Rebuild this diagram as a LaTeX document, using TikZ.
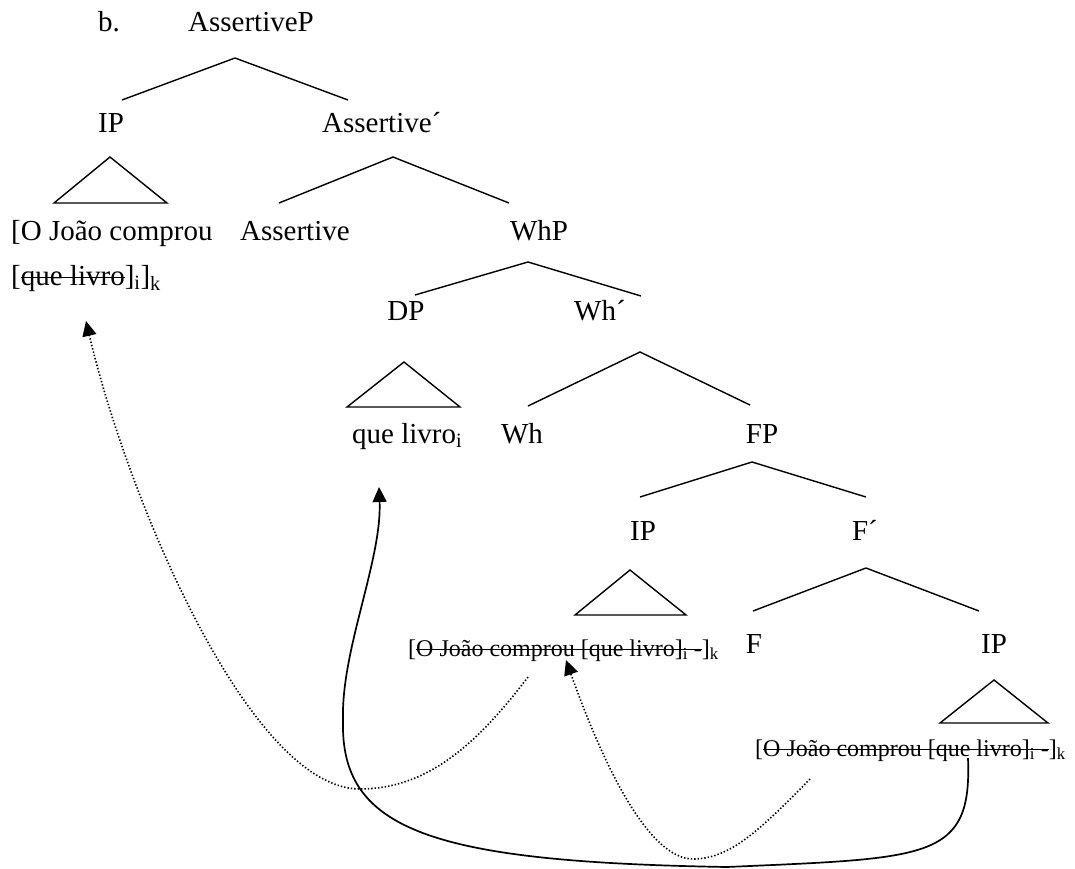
\documentclass[tikz,border=0pt]{standalone}
\usepackage{fontspec}
\setmainfont{Liberation Serif}
\usetikzlibrary{arrows.meta}
% struck-through text: a rule laid over the boxed material
\newcommand\strk[1]{\setbox0\hbox{#1}\rlap{\rule[0.23em]{\wd0}{1.4pt}}\box0}

\begin{document}
\begin{tikzpicture}[x=1pt,y=-1pt,
  lbl/.style={inner sep=0pt, anchor=base, font=\fontsize{29}{34}\selectfont},
  lblw/.style={lbl, anchor=base west},
  trace/.style={inner sep=0pt, anchor=base west, font=\fontsize{24}{28}\selectfont},
  branch/.style={line width=1.4pt, line join=miter},
  movedot/.style={line width=1.6pt, dash pattern=on 1.4pt off 2.0pt,
    -{Triangle[length=15pt,width=14pt]}},
  movesolid/.style={line width=1.7pt, -{Triangle[length=15pt,width=14pt]}},
]
\useasboundingbox (0,0) rectangle (1075,869);

% ---- labels ----
\node[lblw] (ex)    at (98,32)  {b.};
\node[lblw] (AP)    at (188,32) {AssertiveP};
\node[lbl]  (IPa)   at (111,133) {IP};
\node[lblw] (Abar)  at (322,133) {Assertive´};
\node[lblw] (IPa1)  at (11,240) {[O João comprou};
\node[lblw] (IPa2)  at (11,285) {[\strk{que livro}]\textsubscript{i}]\textsubscript{k}};
\node[lblw] (Ahead) at (240,240) {Assertive};
\node[lbl]  (WhP)   at (539,240) {WhP};
\node[lbl]  (DP)    at (406,320) {DP};
\node[lbl]  (Whbar) at (600,320) {Wh´};
\node[lblw] (DPtxt) at (352,443) {que livro\textsubscript{i}};
\node[lbl]  (Wh)    at (522,443) {Wh};
\node[lbl]  (FP)    at (762,443) {FP};
\node[lbl]  (IPb)   at (643,540) {IP};
\node[lbl]  (Fbar)  at (865,540) {F´};
\node[trace] (IPbtxt) at (408,656) {[\strk{O João comprou [que livro]\textsubscript{i} -}]\textsubscript{k}};
\node[lbl]  (F)     at (754,653) {F};
\node[lbl]  (IPc)   at (994,653) {IP};
\node[trace] (IPctxt) at (755,756) {[\strk{O João comprou [que livro]\textsubscript{i} -}]\textsubscript{k}};

% ---- branching points ----
\coordinate (AP-t) at (235,58);  \coordinate (AP-l) at (122,100); \coordinate (AP-r) at (348,100);
\coordinate (Ab-t) at (393,157); \coordinate (Ab-l) at (279,203); \coordinate (Ab-r) at (509,203);
\coordinate (Wp-t) at (528,262); \coordinate (Wp-l) at (415,295); \coordinate (Wp-r) at (641,296);
\coordinate (Wb-t) at (640,352); \coordinate (Wb-l) at (528,406); \coordinate (Wb-r) at (750,405);
\coordinate (FP-t) at (752,462); \coordinate (FP-l) at (640,497); \coordinate (FP-r) at (866,497);
\coordinate (Fb-t) at (866,568); \coordinate (Fb-l) at (753,611); \coordinate (Fb-r) at (979,611);

\draw[branch] (AP-l) -- (AP-t) -- (AP-r);
\draw[branch] (Ab-l) -- (Ab-t) -- (Ab-r);
\draw[branch] (Wp-l) -- (Wp-t) -- (Wp-r);
\draw[branch] (Wb-l) -- (Wb-t) -- (Wb-r);
\draw[branch] (FP-l) -- (FP-t) -- (FP-r);
\draw[branch] (Fb-l) -- (Fb-t) -- (Fb-r);

% ---- triangles ----
\coordinate (T1-t) at (110,157); \coordinate (T1-l) at (54,203);  \coordinate (T1-r) at (167,203);
\coordinate (T2-t) at (404,362); \coordinate (T2-l) at (347,407); \coordinate (T2-r) at (460,407);
\coordinate (T3-t) at (630,570); \coordinate (T3-l) at (575,615); \coordinate (T3-r) at (686,615);
\coordinate (T4-t) at (994,680); \coordinate (T4-l) at (940,723); \coordinate (T4-r) at (1048,723);
\draw[branch] (T1-t) -- (T1-l) -- (T1-r) -- cycle;
\draw[branch] (T2-t) -- (T2-l) -- (T2-r) -- cycle;
\draw[branch] (T3-t) -- (T3-l) -- (T3-r) -- cycle;
\draw[branch] (T4-t) -- (T4-l) -- (T4-r) -- cycle;

% ---- movement arrows ----
\coordinate (m1s) at (528,677); \coordinate (m1e) at (86,321);
\coordinate (m2s) at (968,758); \coordinate (m2e) at (379,487);
\coordinate (m3s) at (810,779); \coordinate (m3e) at (566,660);

\draw[movedot] (m1s) .. controls (480,740) and (430,789) .. (360,789)
  .. controls (250,789) and (128,500) .. (m1e);
\draw[movesolid] (m2s) .. controls (972,860) and (930,858) .. (727,867)
  .. controls (430,862) and (340,830) .. (343,720)
  .. controls (341,650) and (382,560) .. (m2e);
\draw[movedot] (m3s) .. controls (760,830) and (730,859) .. (693,859)
  .. controls (650,859) and (605,770) .. (m3e);
\end{tikzpicture}
\end{document}
